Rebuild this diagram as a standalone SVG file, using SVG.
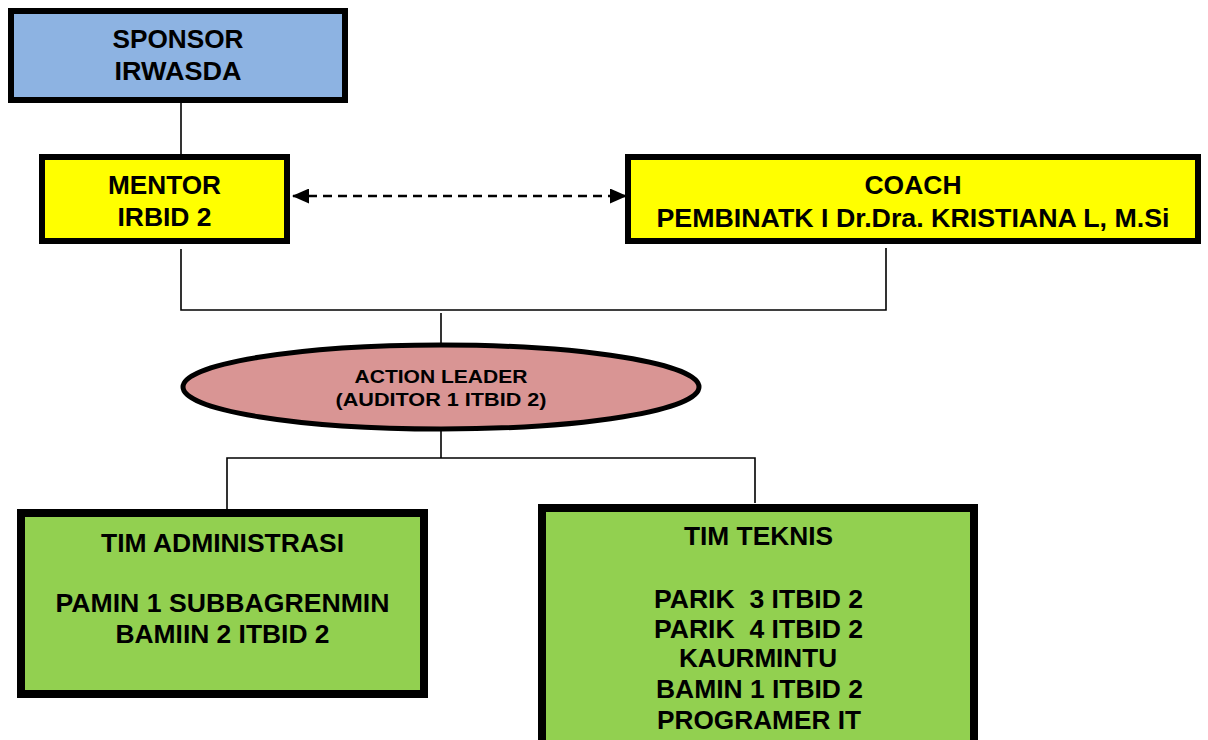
<svg xmlns="http://www.w3.org/2000/svg" width="1208" height="740" viewBox="0 0 1208 740">
<style>
.box{stroke:#000;stroke-width:6}
.gbox{stroke:#000;stroke-width:8;fill:#92D050}
.t{font-family:"Liberation Sans",Arial,sans-serif;font-weight:bold;font-size:25px;fill:#000;text-anchor:middle}
.ts{font-family:"Liberation Sans",Arial,sans-serif;font-weight:bold;font-size:19px;fill:#000;text-anchor:middle}
.c{stroke:#000;stroke-width:1.6;fill:none}
</style>
<defs>
<marker id="ah" markerWidth="17" markerHeight="15" refX="16" refY="7.5" orient="auto-start-reverse" markerUnits="userSpaceOnUse">
<path d="M0,0 L17,7.5 L0,15 Z" fill="#000"/>
</marker>
</defs>
<rect width="1208" height="740" fill="#fff"/>
<g id="connectors">
<line class="c" x1="181" y1="103" x2="181" y2="154"/>
<line x1="293" y1="196" x2="626" y2="196" stroke="#000" stroke-width="2.6" stroke-dasharray="9,6" marker-start="url(#ah)" marker-end="url(#ah)"/>
<polyline class="c" points="181,249 181,310 886,310 886,248"/>
<line class="c" x1="441" y1="313" x2="441" y2="345"/>
<line class="c" x1="441" y1="429" x2="441" y2="458"/>
<polyline class="c" points="227,510 227,458 755,458 755,503"/>
</g>
<g id="sponsor">
<rect class="box" x="11" y="11" width="334" height="89" fill="#8DB3E2"/>
<text class="t" x="178" y="48" textLength="131" lengthAdjust="spacingAndGlyphs">SPONSOR</text>
<text class="t" x="178" y="80" textLength="127" lengthAdjust="spacingAndGlyphs">IRWASDA</text>
</g>
<g id="mentor">
<rect class="box" x="42" y="157" width="245" height="84" fill="#FFFF00"/>
<text class="t" x="164.5" y="194" textLength="113" lengthAdjust="spacingAndGlyphs">MENTOR</text>
<text class="t" x="164.5" y="226" textLength="94" lengthAdjust="spacingAndGlyphs">IRBID 2</text>
</g>
<g id="coach">
<rect class="box" x="628" y="157" width="570" height="84" fill="#FFFF00"/>
<text class="t" x="913" y="194" textLength="97" lengthAdjust="spacingAndGlyphs">COACH</text>
<text class="t" x="913" y="227" textLength="513" lengthAdjust="spacingAndGlyphs">PEMBINATK I Dr.Dra. KRISTIANA L, M.Si</text>
</g>
<g id="action-leader">
<ellipse cx="441" cy="387" rx="258" ry="42" fill="#D99594" stroke="#000" stroke-width="5"/>
<text class="ts" x="441" y="383" textLength="173" lengthAdjust="spacingAndGlyphs">ACTION LEADER</text>
<text class="ts" x="441" y="406" textLength="211" lengthAdjust="spacingAndGlyphs">(AUDITOR 1 ITBID 2)</text>
</g>
<g id="tim-administrasi">
<rect class="gbox" x="21" y="513" width="403" height="181"/>
<text class="t" x="222.5" y="552" textLength="243" lengthAdjust="spacingAndGlyphs">TIM ADMINISTRASI</text>
<text class="t" x="222.5" y="612" textLength="334" lengthAdjust="spacingAndGlyphs">PAMIN 1 SUBBAGRENMIN</text>
<text class="t" x="222.5" y="643" textLength="214" lengthAdjust="spacingAndGlyphs">BAMIIN 2 ITBID 2</text>
</g>
<g id="tim-teknis">
<rect class="gbox" x="542" y="508" width="432" height="245"/>
<text class="t" x="758.5" y="545" textLength="149" lengthAdjust="spacingAndGlyphs">TIM TEKNIS</text>
<text class="t" x="758.5" y="608" textLength="209" lengthAdjust="spacingAndGlyphs" xml:space="preserve">PARIK  3 ITBID 2</text>
<text class="t" x="758.5" y="638" textLength="209" lengthAdjust="spacingAndGlyphs" xml:space="preserve">PARIK  4 ITBID 2</text>
<text class="t" x="758" y="667" textLength="158" lengthAdjust="spacingAndGlyphs">KAURMINTU</text>
<text class="t" x="759.5" y="698" textLength="207" lengthAdjust="spacingAndGlyphs">BAMIN 1 ITBID 2</text>
<text class="t" x="759" y="729" textLength="204" lengthAdjust="spacingAndGlyphs">PROGRAMER IT</text>
</g>
</svg>
